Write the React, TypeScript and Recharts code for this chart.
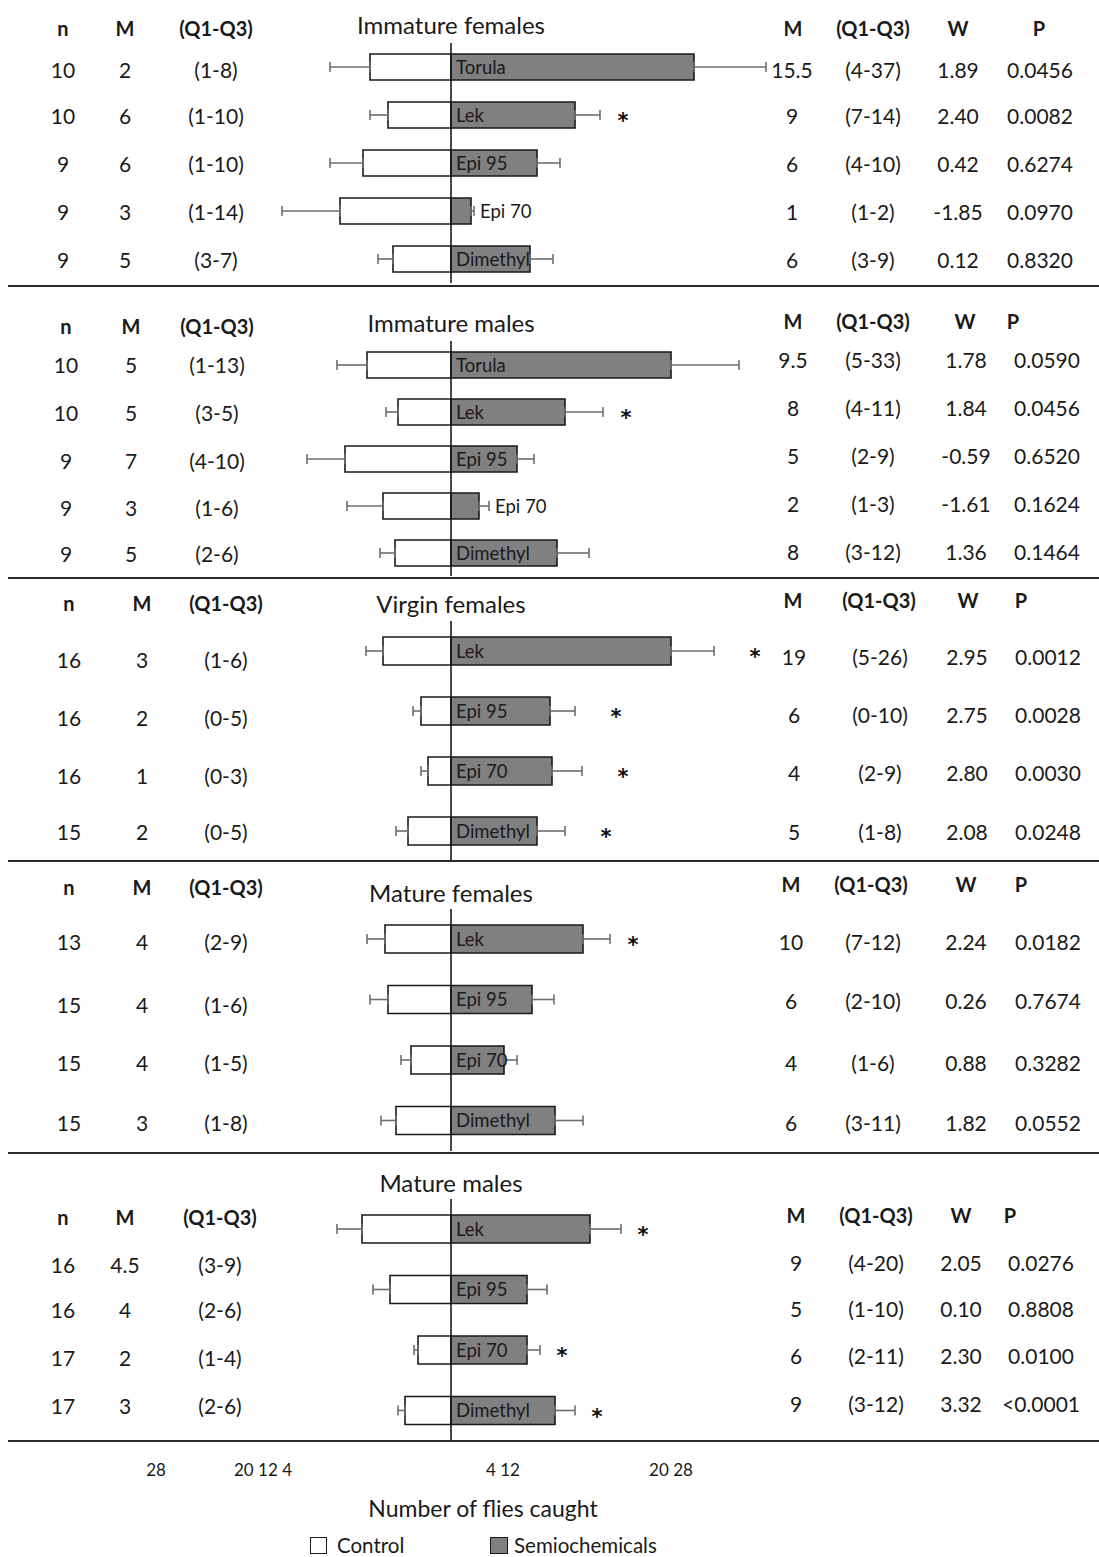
import React from 'react';
import { BarChart, Bar, XAxis, YAxis, ErrorBar, ReferenceLine, LabelList } from 'recharts';

const FONT = 'Lato, "Open Sans", sans-serif';
const W = 1099;
const DOMAIN: [number, number] = [-45.1, 64.8];
const PX = W / (DOMAIN[1] - DOMAIN[0]);

// ---------- Panel 1: Immature females ----------
const p1Title = 'Immature females';
const p1Names = ['Torula', 'Lek', 'Epi 95', 'Epi 70', 'Dimethyl'];
const p1Control = [8.1, 6.3, 8.8, 11.1, 5.8];
const p1ControlErr = [4.0, 1.8, 3.3, 5.8, 1.5];
const p1Semi = [24.3, 12.4, 8.6, 2.0, 7.9];
const p1SemiErr = [7.2, 2.5, 2.3, 0.3, 2.3];
const p1Sig = [false, true, false, false, false];
const p1Outside = [false, false, false, true, false];
const p1N = ['10', '10', '9', '9', '9'];
const p1MC = ['2', '6', '6', '3', '5'];
const p1QC = ['(1-8)', '(1-10)', '(1-10)', '(1-14)', '(3-7)'];
const p1MS = ['15.5', '9', '6', '1', '6'];
const p1QS = ['(4-37)', '(7-14)', '(4-10)', '(1-2)', '(3-9)'];
const p1W = ['1.89', '2.40', '0.42', '-1.85', '0.12'];
const p1P = ['0.0456', '0.0082', '0.6274', '0.0970', '0.8320'];

// ---------- Panel 2: Immature males ----------
const p2Title = 'Immature males';
const p2Names = ['Torula', 'Lek', 'Epi 95', 'Epi 70', 'Dimethyl'];
const p2Control = [8.4, 5.3, 10.6, 6.8, 5.6];
const p2ControlErr = [3.0, 1.2, 3.8, 3.6, 1.5];
const p2Semi = [22.0, 11.4, 6.6, 2.8, 10.6];
const p2SemiErr = [6.8, 3.8, 1.7, 1.0, 3.2];
const p2Sig = [false, true, false, false, false];
const p2Outside = [false, false, false, true, false];
const p2N = ['10', '10', '9', '9', '9'];
const p2MC = ['5', '5', '7', '3', '5'];
const p2QC = ['(1-13)', '(3-5)', '(4-10)', '(1-6)', '(2-6)'];
const p2MS = ['9.5', '8', '5', '2', '8'];
const p2QS = ['(5-33)', '(4-11)', '(2-9)', '(1-3)', '(3-12)'];
const p2W = ['1.78', '1.84', '-0.59', '-1.61', '1.36'];
const p2P = ['0.0590', '0.0456', '0.6520', '0.1624', '0.1464'];

// ---------- Panel 3: Virgin females ----------
const p3Title = 'Virgin females';
const p3Names = ['Lek', 'Epi 95', 'Epi 70', 'Dimethyl'];
const p3Control = [6.8, 3.0, 2.3, 4.3];
const p3ControlErr = [1.7, 0.8, 0.7, 1.2];
const p3Semi = [22.0, 9.9, 10.1, 8.6];
const p3SemiErr = [4.3, 2.5, 3.0, 2.8];
const p3Sig = [true, true, true, true];
const p3Outside = [false, false, false, false];
const p3N = ['16', '16', '16', '15'];
const p3MC = ['3', '2', '1', '2'];
const p3QC = ['(1-6)', '(0-5)', '(0-3)', '(0-5)'];
const p3MS = ['19', '6', '4', '5'];
const p3QS = ['(5-26)', '(0-10)', '(2-9)', '(1-8)'];
const p3W = ['2.95', '2.75', '2.80', '2.08'];
const p3P = ['0.0012', '0.0028', '0.0030', '0.0248'];

// ---------- Panel 4: Mature females ----------
const p4Title = 'Mature females';
const p4Names = ['Lek', 'Epi 95', 'Epi 70', 'Dimethyl'];
const p4Control = [6.6, 6.3, 4.0, 5.5];
const p4ControlErr = [1.8, 1.8, 1.0, 1.5];
const p4Semi = [13.2, 8.1, 5.3, 10.4];
const p4SemiErr = [2.7, 2.2, 1.3, 2.8];
const p4Sig = [true, false, false, false];
const p4Outside = [false, false, false, false];
const p4N = ['13', '15', '15', '15'];
const p4MC = ['4', '4', '4', '3'];
const p4QC = ['(2-9)', '(1-6)', '(1-5)', '(1-8)'];
const p4MS = ['10', '6', '4', '6'];
const p4QS = ['(7-12)', '(2-10)', '(1-6)', '(3-11)'];
const p4W = ['2.24', '0.26', '0.88', '1.82'];
const p4P = ['0.0182', '0.7674', '0.3282', '0.0552'];

// ---------- Panel 5: Mature males ----------
const p5Title = 'Mature males';
const p5Names = ['Lek', 'Epi 95', 'Epi 70', 'Dimethyl'];
const p5Control = [8.9, 6.1, 3.3, 4.6];
const p5ControlErr = [2.5, 1.7, 0.4, 0.7];
const p5Semi = [13.9, 7.6, 7.6, 10.4];
const p5SemiErr = [3.1, 2.0, 1.3, 2.0];
const p5Sig = [true, false, true, true];
const p5Outside = [false, false, false, false];
const p5N = ['16', '16', '17', '17'];
const p5MC = ['4.5', '4', '2', '3'];
const p5QC = ['(3-9)', '(2-6)', '(1-4)', '(2-6)'];
const p5MS = ['9', '5', '6', '9'];
const p5QS = ['(4-20)', '(1-10)', '(2-11)', '(3-12)'];
const p5W = ['2.05', '0.10', '2.30', '3.32'];
const p5P = ['0.0276', '0.8808', '0.0100', '<0.0001'];

const leftHeaders = ['n', 'M', '(Q1-Q3)'];
const rightHeaders = ['M', '(Q1-Q3)', 'W', 'P'];
const bottomTickLabels = ['28', '20 12 4', '4 12', '20 28'];
const axisTitle = 'Number of flies caught';
const legendLabels = ['Control', 'Semiochemicals'];

// ---------- layout (positions, not data) ----------
const layouts = [
  { plotTop: 43, plotH: 240, bar: 26, star: 23, titleY: 25, hlY: 28, hrY: 28,
    lRows: [69, 115, 163, 211, 259], rRows: [69, 115, 163, 211, 259],
    lCols: [63, 125, 216], rhCols: [793, 873, 958, 1039], rCols: [792, 873, 958, 1040], sep: 286 },
  { plotTop: 341, plotH: 235, bar: 26, star: 23, titleY: 323, hlY: 326, hrY: 321,
    lRows: [364, 412, 460, 507, 553], rRows: [359, 407, 455, 503, 551],
    lCols: [66, 131, 217], rhCols: [793, 873, 965, 1013], rCols: [793, 873, 966, 1047], sep: 578 },
  { plotTop: 620.5, plotH: 240, bar: 28, star: 41, titleY: 604, hlY: 603, hrY: 600,
    lRows: [659, 717, 775, 831], rRows: [656, 714, 772, 831],
    lCols: [69, 142, 226], rhCols: [793, 879, 968, 1021], rCols: [794, 880, 967, 1048], sep: 861 },
  { plotTop: 908.5, plotH: 242, bar: 28, star: 23, titleY: 893, hlY: 887, hrY: 884,
    lRows: [941, 1004, 1062, 1122], rRows: [941, 1000, 1062, 1122],
    lCols: [69, 142, 226], rhCols: [791, 871, 966, 1021], rCols: [791, 873, 966, 1048], sep: 1153 },
  { plotTop: 1199, plotH: 242, bar: 28, star: 22, titleY: 1183, hlY: 1217, hrY: 1215,
    lRows: [1264, 1309, 1357, 1405], rRows: [1262, 1308, 1355, 1403],
    lCols: [63, 125, 220], rhCols: [796, 876, 961, 1010], rCols: [796, 876, 961, 1041], sep: 1441 },
];

type Row = {
  name: string; control: number; controlErr: number[]; semi: number; semiErr: number[];
  sig: boolean; outside: boolean;
};

const build = (names: string[], c: number[], ce: number[], s: number[], se: number[], sig: boolean[], out: boolean[]): Row[] =>
  names.map((name, i) => ({
    name, control: -c[i], controlErr: [ce[i], 0], semi: s[i], semiErr: [0, se[i]], sig: sig[i], outside: out[i],
  }));

const panels = [
  { title: p1Title, rows: build(p1Names, p1Control, p1ControlErr, p1Semi, p1SemiErr, p1Sig, p1Outside), left: [p1N, p1MC, p1QC], right: [p1MS, p1QS, p1W, p1P] },
  { title: p2Title, rows: build(p2Names, p2Control, p2ControlErr, p2Semi, p2SemiErr, p2Sig, p2Outside), left: [p2N, p2MC, p2QC], right: [p2MS, p2QS, p2W, p2P] },
  { title: p3Title, rows: build(p3Names, p3Control, p3ControlErr, p3Semi, p3SemiErr, p3Sig, p3Outside), left: [p3N, p3MC, p3QC], right: [p3MS, p3QS, p3W, p3P] },
  { title: p4Title, rows: build(p4Names, p4Control, p4ControlErr, p4Semi, p4SemiErr, p4Sig, p4Outside), left: [p4N, p4MC, p4QC], right: [p4MS, p4QS, p4W, p4P] },
  { title: p5Title, rows: build(p5Names, p5Control, p5ControlErr, p5Semi, p5SemiErr, p5Sig, p5Outside), left: [p5N, p5MC, p5QC], right: [p5MS, p5QS, p5W, p5P] },
];

const TXT = '#1a1a1a';

const T = ({ x, y, children, size = 21, bold = false }: any) => (
  <div style={{
    position: 'absolute', left: x, top: y, transform: 'translate(-50%, -50%)', whiteSpace: 'nowrap',
    fontFamily: FONT, fontSize: size, fontWeight: bold ? 700 : 400, color: TXT, lineHeight: 1,
  }}>{children}</div>
);

const makeLabel = (rows: Row[], starOffset: number) => (p: any) => {
  const r = rows.find((d) => d.name === p.value) || rows[p.index];
  if (!r) return null;
  const x = Number(p.x), y = Number(p.y), w = Number(p.width), h = Number(p.height);
  const cy = y + h / 2;
  const whisker = x + w + r.semiErr[1] * PX;
  const lx = r.outside ? whisker + 6 : x + 5;
  return (
    <g>
      <text x={lx} y={cy} dy="0.36em" fontSize={18.5} fill={TXT} fontFamily={FONT}>{r.name}</text>
      {r.sig && (
        <text x={whisker + starOffset} y={cy} dy="0.62em" textAnchor="middle" fontSize={21} fontWeight={700}
          fill="#111" fontFamily='"DejaVu Sans", sans-serif'>*</text>
      )}
    </g>
  );
};

const Panel = ({ idx }: { idx: number }) => {
  const P = panels[idx];
  const L = layouts[idx];
  return (
    <>
      <T x={451} y={L.titleY} size={24}>{P.title}</T>
      {leftHeaders.map((h, j) => <T key={'lh' + j} x={L.lCols[j]} y={L.hlY} size={20} bold>{h}</T>)}
      {rightHeaders.map((h, j) => <T key={'rh' + j} x={L.rhCols[j]} y={L.hrY} size={20} bold>{h}</T>)}
      {P.left.map((col, j) => col.map((v, i) => <T key={`l${j}-${i}`} x={L.lCols[j]} y={L.lRows[i]}>{v}</T>))}
      {P.right.map((col, j) => col.map((v, i) => <T key={`r${j}-${i}`} x={L.rCols[j]} y={L.rRows[i]}>{v}</T>))}
      <div style={{ position: 'absolute', left: 0, top: L.plotTop, width: W, height: L.plotH }}>
        <BarChart width={W} height={L.plotH} data={P.rows} layout="vertical" stackOffset="sign"
          margin={{ top: 0, right: 0, bottom: 0, left: 0 }} barCategoryGap={0}>
          <XAxis type="number" hide domain={DOMAIN} allowDataOverflow />
          <YAxis type="category" dataKey="name" hide />
          <Bar dataKey="control" stackId="s" fill="#ffffff" stroke={TXT} strokeWidth={1.6} barSize={L.bar} isAnimationActive={false}>
            <ErrorBar dataKey="controlErr" direction="x" width={5} stroke="#6e6e6e" strokeWidth={1.6} />
          </Bar>
          <Bar dataKey="semi" stackId="s" fill="#808080" stroke={TXT} strokeWidth={1.6} barSize={L.bar} isAnimationActive={false}>
            <ErrorBar dataKey="semiErr" direction="x" width={5} stroke="#6e6e6e" strokeWidth={1.6} />
            <LabelList dataKey="name" content={makeLabel(P.rows, L.star)} />
          </Bar>
          <ReferenceLine x={0} stroke={TXT} strokeWidth={1.6} ifOverflow="extendDomain" />
        </BarChart>
      </div>
      <div style={{ position: 'absolute', left: 8, top: L.sep - 1.25, width: W - 8, height: 2.5, background: '#2a2a2a' }} />
    </>
  );
};

const tickX = [156, 263, 503, 671];

export default function App() {
  return (
    <div style={{ position: 'absolute', left: 0, top: 0, width: W, height: 1557, background: '#fff', overflow: 'hidden' }}>
      {panels.map((_, i) => <Panel key={i} idx={i} />)}
      {bottomTickLabels.map((t, i) => <T key={'t' + i} x={tickX[i]} y={1469} size={17}>{t}</T>)}
      <T x={483} y={1508} size={23}>{axisTitle}</T>
      <div style={{ position: 'absolute', left: 310, top: 1537, width: 17, height: 17, boxSizing: 'border-box', border: `1.5px solid ${TXT}`, background: '#fff' }} />
      <div style={{ position: 'absolute', left: 337, top: 1545, transform: 'translateY(-50%)', fontFamily: FONT, fontSize: 20.5, color: TXT, lineHeight: 1.1, whiteSpace: 'nowrap' }}>{legendLabels[0]}</div>
      <div style={{ position: 'absolute', left: 490, top: 1537, width: 18, height: 17, boxSizing: 'border-box', border: `1.5px solid ${TXT}`, background: '#808080' }} />
      <div style={{ position: 'absolute', left: 514, top: 1545, transform: 'translateY(-50%)', fontFamily: FONT, fontSize: 20.5, color: TXT, lineHeight: 1.1, whiteSpace: 'nowrap' }}>{legendLabels[1]}</div>
    </div>
  );
}
